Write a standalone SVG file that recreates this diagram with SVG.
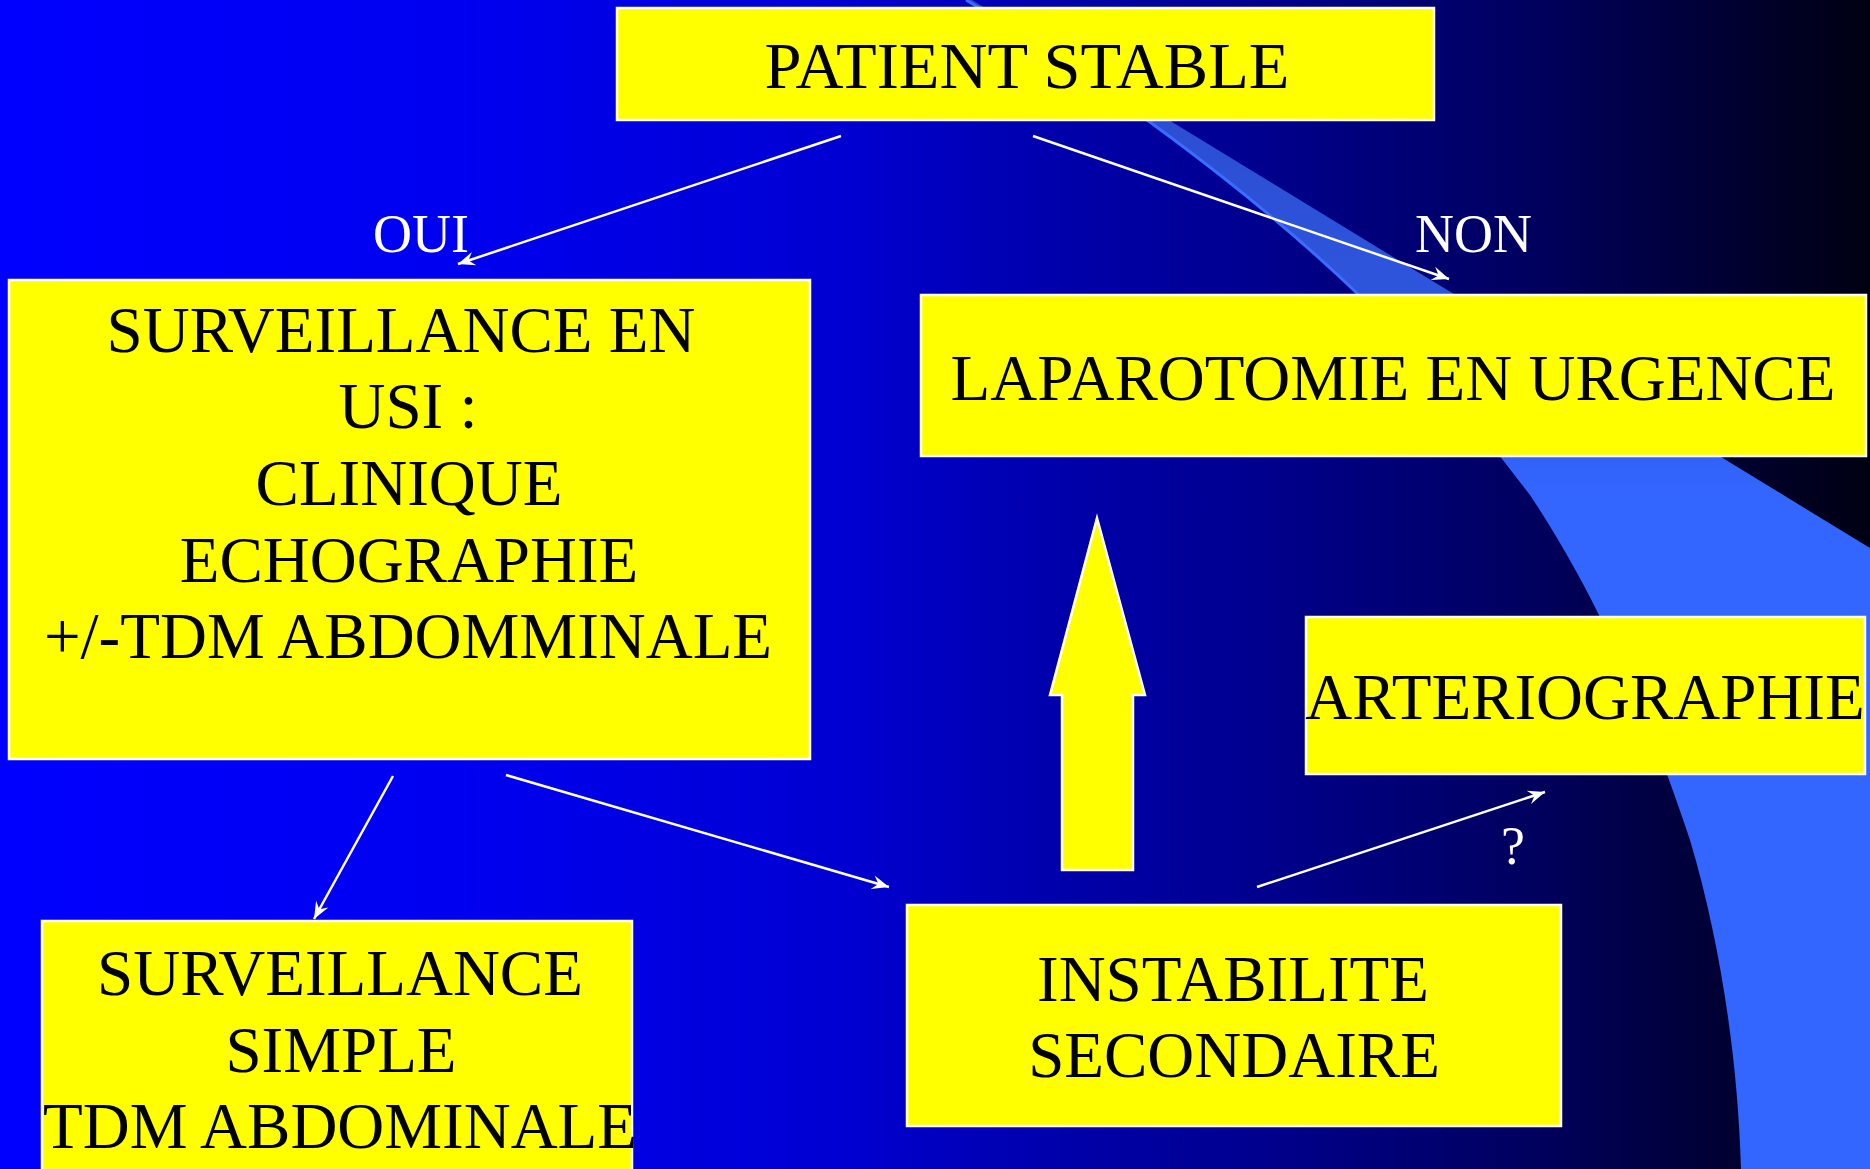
<svg xmlns="http://www.w3.org/2000/svg" width="1870" height="1169" viewBox="0 0 1870 1169">
  <defs>
    <linearGradient id="bg" x1="0" y1="0" x2="1870" y2="0" gradientUnits="userSpaceOnUse">
      <stop offset="0" stop-color="#0000ff"/>
      <stop offset="0.25" stop-color="#0000f0"/>
      <stop offset="0.45" stop-color="#0000d2"/>
      <stop offset="0.55" stop-color="#0000b0"/>
      <stop offset="0.68" stop-color="#00008c"/>
      <stop offset="0.82" stop-color="#00005e"/>
      <stop offset="1" stop-color="#000012"/>
    </linearGradient>
    <linearGradient id="band" x1="0" y1="0" x2="0" y2="1169" gradientUnits="userSpaceOnUse">
      <stop offset="0" stop-color="#2a48cc"/>
      <stop offset="0.3" stop-color="#2e58e0"/>
      <stop offset="0.42" stop-color="#3366ff"/>
      <stop offset="1" stop-color="#3366ff"/>
    </linearGradient>
    <marker id="ah" markerUnits="userSpaceOnUse" markerWidth="20" markerHeight="16" viewBox="-18 -8 20 16" refX="0" refY="0" orient="auto">
      <path d="M0,0 L-17,-7 L-11,0 L-17,7 Z" fill="#ffffff"/>
    </marker>
  </defs>
  <style>
    .box { fill: #ffff00; stroke: #ffffff; stroke-width: 2.5; }
    .t { font-family: "Liberation Serif", "Times New Roman", serif; font-size: 65px; fill: #000000; text-anchor: middle; }
    .lbl { font-family: "Liberation Serif", "Times New Roman", serif; font-size: 54px; fill: #ffffff; }
    .conn { stroke: #ffffff; stroke-width: 2.5; fill: none; marker-end: url(#ah); }
  </style>

  <rect x="0" y="0" width="1870" height="1169" fill="url(#bg)"/>
  <g id="swoosh">
    <path d="M966,0 C1100,80 1250,190 1360,296 C1430,365 1480,430 1530,495 C1600,600 1650,720 1690,840 C1720,940 1738,1060 1741,1169 L1870,1169 L1870,548 L972,0 Z" fill="url(#band)"/>
    <path d="M966,0 C1100,80 1250,190 1360,296" fill="none" stroke="#3a6cff" stroke-width="3"/>
  </g>

  <g id="connectors">
    <line class="conn" x1="841" y1="136" x2="458" y2="264"/>
    <line class="conn" x1="1033" y1="136" x2="1449" y2="279"/>
    <line class="conn" x1="393" y1="776" x2="314" y2="919"/>
    <line class="conn" x1="506" y1="775" x2="889" y2="887"/>
    <line class="conn" x1="1257" y1="887" x2="1545" y2="792"/>
    <text class="lbl" x="373" y="252">OUI</text>
    <text class="lbl" x="1415" y="252">NON</text>
    <text class="lbl" x="1513" y="864" text-anchor="middle">?</text>
  </g>

  <g id="big-arrow">
    <polygon points="1097,518 1145,695 1133,695 1133,870 1062,870 1062,695 1050,695" fill="#ffff00" stroke="#ffffff" stroke-width="2.5"/>
  </g>

  <g id="patient-stable">
    <rect class="box" x="617" y="8" width="817" height="112"/>
    <text class="t" x="1027" y="88" style="font-size:66.5px">PATIENT STABLE</text>
  </g>

  <g id="surveillance-usi">
    <rect class="box" x="9" y="280" width="801" height="479"/>
    <text class="t" x="401" y="352">SURVEILLANCE EN</text>
    <text class="t" x="408" y="428">USI :</text>
    <text class="t" x="409" y="505">CLINIQUE</text>
    <text class="t" x="409" y="582">ECHOGRAPHIE</text>
    <text class="t" x="408" y="658">+/-TDM ABDOMMINALE</text>
  </g>

  <g id="laparotomie">
    <rect class="box" x="921" y="295" width="945" height="161"/>
    <text class="t" x="1393" y="400">LAPAROTOMIE EN URGENCE</text>
  </g>

  <g id="arteriographie">
    <rect class="box" x="1306" y="617" width="559" height="157"/>
    <text class="t" x="1585" y="719">ARTERIOGRAPHIE</text>
  </g>

  <g id="surveillance-simple">
    <rect class="box" x="42" y="921" width="590" height="270"/>
    <text class="t" x="340" y="995">SURVEILLANCE</text>
    <text class="t" x="341" y="1072">SIMPLE</text>
    <text class="t" x="340" y="1148">TDM ABDOMINALE</text>
  </g>

  <g id="instabilite">
    <rect class="box" x="907" y="905" width="654" height="221"/>
    <text class="t" x="1233" y="1001">INSTABILITE</text>
    <text class="t" x="1234" y="1077">SECONDAIRE</text>
  </g>
</svg>
